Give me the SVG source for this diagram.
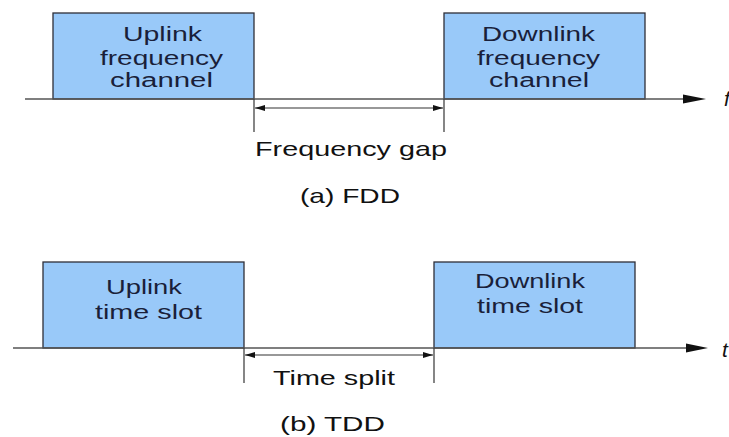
<svg xmlns="http://www.w3.org/2000/svg" width="729" height="437" viewBox="0 0 729 437">
  <style>
    .slot { fill: #99c9f9; stroke: #2e2e38; stroke-width: 1.3; }
    .slot-text { font-family: "Liberation Sans", Arial, sans-serif; font-size: 20px; fill: #1a1f3a; }
    .label { font-family: "Liberation Sans", Arial, sans-serif; font-size: 21px; fill: #111; }
    .axis-name { font-family: "Liberation Sans", Arial, sans-serif; font-style: italic; font-size: 21px; fill: #111; }
    .axis { stroke: #555; stroke-width: 1.5; fill: none; }
    .tick { stroke: #444; stroke-width: 1.3; fill: none; }
    .dim { stroke: #333; stroke-width: 1.2; fill: none; marker-start: url(#dimStart); marker-end: url(#dimEnd); }
    .head { fill: #111; }
  </style>
  <defs>
    <marker id="dimEnd" viewBox="0 0 10 6" refX="10" refY="3" markerWidth="10" markerHeight="6" markerUnits="userSpaceOnUse" orient="auto">
      <path d="M0,0 L10,3 L0,6 Z" fill="#111"/>
    </marker>
    <marker id="dimStart" viewBox="0 0 10 6" refX="0" refY="3" markerWidth="10" markerHeight="6" markerUnits="userSpaceOnUse" orient="auto">
      <path d="M10,0 L0,3 L10,6 Z" fill="#111"/>
    </marker>
  </defs>

  <!-- (a) FDD: frequency axis and channels -->
  <g id="fdd-uplink">
    <rect class="slot" x="53" y="13" width="201" height="86"/>
    <text class="slot-text" x="123" y="41" textLength="79" lengthAdjust="spacingAndGlyphs">Uplink</text>
    <text class="slot-text" x="100" y="65" textLength="123" lengthAdjust="spacingAndGlyphs">frequency</text>
    <text class="slot-text" x="110" y="87" textLength="103" lengthAdjust="spacingAndGlyphs">channel</text>
  </g>
  <g id="fdd-downlink">
    <rect class="slot" x="444" y="13" width="201" height="86"/>
    <text class="slot-text" x="482" y="41" textLength="113" lengthAdjust="spacingAndGlyphs">Downlink</text>
    <text class="slot-text" x="477" y="65" textLength="123" lengthAdjust="spacingAndGlyphs">frequency</text>
    <text class="slot-text" x="489" y="87" textLength="100" lengthAdjust="spacingAndGlyphs">channel</text>
  </g>

  <!-- (b) TDD: time axis and slots -->
  <g id="tdd-uplink">
    <rect class="slot" x="43" y="262" width="201" height="86"/>
    <text class="slot-text" x="106" y="294" textLength="76" lengthAdjust="spacingAndGlyphs">Uplink</text>
    <text class="slot-text" x="95" y="319" textLength="107" lengthAdjust="spacingAndGlyphs">time slot</text>
  </g>
  <g id="tdd-downlink">
    <rect class="slot" x="434" y="262" width="201" height="86"/>
    <text class="slot-text" x="475" y="288" textLength="110" lengthAdjust="spacingAndGlyphs">Downlink</text>
    <text class="slot-text" x="477" y="313" textLength="106" lengthAdjust="spacingAndGlyphs">time slot</text>
  </g>

  <g id="connectors">
    <!-- frequency axis -->
    <line class="axis" x1="25" y1="99" x2="688" y2="99"/>
    <path class="head" d="M683,94.5 L706,99 L683,103.5 Z"/>
    <!-- frequency gap dimension -->
    <line class="tick" x1="254" y1="99" x2="254" y2="132"/>
    <line class="tick" x1="444" y1="99" x2="444" y2="132"/>
    <line class="dim" x1="255" y1="108" x2="443" y2="108"/>

    <!-- time axis -->
    <line class="axis" x1="13" y1="348" x2="690" y2="348"/>
    <path class="head" d="M686,343.5 L708,348 L686,352.5 Z"/>
    <!-- time split dimension -->
    <line class="tick" x1="244" y1="348" x2="244" y2="383"/>
    <line class="tick" x1="434" y1="348" x2="434" y2="383"/>
    <line class="dim" x1="245" y1="355" x2="433" y2="355"/>
  </g>

  <g id="labels">
    <text class="axis-name" x="724" y="106">f</text>
    <text class="label" x="255" y="156" textLength="192" lengthAdjust="spacingAndGlyphs">Frequency gap</text>
    <text class="label" x="300" y="203" font-size="20" textLength="100" lengthAdjust="spacingAndGlyphs">(a) FDD</text>

    <text class="axis-name" x="722" y="357">t</text>
    <text class="label" x="273" y="385" textLength="122" lengthAdjust="spacingAndGlyphs">Time split</text>
    <text class="label" x="280" y="431" font-size="20" textLength="105" lengthAdjust="spacingAndGlyphs">(b) TDD</text>
  </g>
</svg>
